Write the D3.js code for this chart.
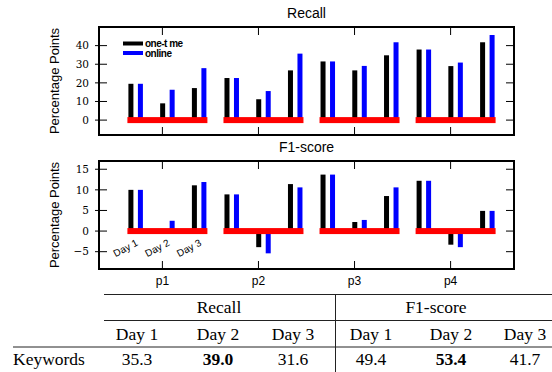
<!DOCTYPE html>
<html>
<head>
<meta charset="utf-8">
<script src="https://cdn.jsdelivr.net/npm/d3@7"></script>
<style>
	body { margin: 0; background: #fff; }
	svg { display: block; }
	.sans { font-family: "Liberation Sans", Arial, sans-serif; }
	.tick-num { font-family: "DejaVu Serif", serif; font-size: 10.5px; }
	.tbl { font-family: "Liberation Serif", "Times New Roman", serif; font-size: 17.5px; }
</style>
</head>
<body>
<svg id="chart" width="552" height="372"></svg>
<script>
// groups and days
var groups = ["p1", "p2", "p3", "p4"];
var days = ["Day 1", "Day 2", "Day 3"];
var series = ["one-t me", "online"];

// recall gains, one row per group, one value per day
var recallOnetime = [[19.5, 9.0, 17.2], [22.6, 11.2, 26.7], [31.5, 26.7, 34.8], [37.9, 29.0, 41.8]];
var recallOnline  = [[19.5, 16.3, 27.9], [22.6, 15.6, 35.7], [31.5, 29.1, 41.8], [37.9, 30.9, 45.7]];

// f1 gains
var f1Onetime = [[10.0, 0.0, 11.1], [8.9, -3.9, 11.4], [13.7, 2.2, 8.5], [12.2, -3.3, 4.9]];
var f1Online  = [[10.0, 2.5, 11.9], [8.9, -5.4, 10.6], [13.7, 2.7, 10.6], [12.2, -3.9, 4.9]];

var recallTicks = [0, 10, 20, 30, 40];
var f1Ticks = [-5, 0, 5, 10, 15];

// table below the chart
var tableHeads = ["Recall", "F1-score"];
var tableDays = ["Day 1", "Day 2", "Day 3", "Day 1", "Day 2", "Day 3"];
var tableRow = "Keywords";
var tableValues = ["35.3", "39.0", "31.6", "49.4", "53.4", "41.7"];
var tableBold = [false, true, false, false, true, false];

var colors = ["#000000", "#0000ff"];

var svg = d3.select("#chart");
var left = 99, right = 514, panelH = 108;

// x: one band per group, days as points inside, series offset
var x = d3.scaleBand().domain(groups).range([left, right]).paddingOuter(0.16).paddingInner(0);
var xDay = d3.scalePoint().domain(days).range([-35, 45]).padding(0.26);
var xSer = d3.scalePoint().domain(series).range([-4.75, 4.75]);
var barW = 5;

function drawPanel(top, title, ydom, ticks, onetime, online) {
	var y = d3.scaleLinear().domain(ydom).range([top + panelH, top]);
	var g = svg.append("g");
	var cx = d => x(d) + x.bandwidth() / 2;

	g.append("text")
		.attr("class", "sans")
		.attr("x", (left + right) / 2)
		.attr("y", top - 9.5)
		.attr("text-anchor", "middle")
		.attr("font-size", 14)
		.text(title);

	// bars, built from the arrays
	var rows = [];
	groups.forEach((p, i) => {
		days.forEach((dd, j) => {
			rows.push({p: p, day: dd, s: series[0], v: onetime[i][j], c: colors[0]});
			rows.push({p: p, day: dd, s: series[1], v: online[i][j], c: colors[1]});
		});
	});
	g.append("g").selectAll("rect")
		.data(rows)
		.enter().append("rect")
			.attr("x", d => cx(d.p) + xDay(d.day) + xSer(d.s) - barW / 2)
			.attr("y", d => y(Math.max(0, d.v)))
			.attr("width", barW)
			.attr("height", d => Math.abs(y(d.v) - y(0)))
			.attr("fill", d => d.c);

	// red baseline strips
	g.append("g").selectAll("rect")
		.data(groups)
		.enter().append("rect")
			.attr("x", d => cx(d) + xDay.range()[0])
			.attr("y", y(0) - 3)
			.attr("width", xDay.range()[1] - xDay.range()[0])
			.attr("height", 6)
			.attr("fill", "#ff0000");

	// ticks on all four sides (inward), left ones poke out a bit
	var yt = g.append("g");
	ticks.forEach(t => {
		yt.append("line").attr("x1", left - 4).attr("x2", left + 8)
			.attr("y1", y(t)).attr("y2", y(t)).attr("stroke", "#000");
		yt.append("line").attr("x1", right - 8).attr("x2", right)
			.attr("y1", y(t)).attr("y2", y(t)).attr("stroke", "#000");
		yt.append("text")
			.attr("class", "tick-num")
			.attr("x", left - 10)
			.attr("y", y(t))
			.attr("dy", "0.36em")
			.attr("text-anchor", "end")
			.text(t < 0 ? "\u2212" + Math.abs(t) : t);
	});
	groups.forEach(p => {
		yt.append("line").attr("x1", cx(p)).attr("x2", cx(p))
			.attr("y1", top).attr("y2", top + 8).attr("stroke", "#000");
		yt.append("line").attr("x1", cx(p)).attr("x2", cx(p))
			.attr("y1", top + panelH - 8).attr("y2", top + panelH).attr("stroke", "#000");
	});

	// frame
	g.append("rect")
		.attr("x", left).attr("y", top)
		.attr("width", right - left).attr("height", panelH)
		.attr("fill", "none").attr("stroke", "#000").attr("stroke-width", 2);

	g.append("text")
		.attr("class", "sans")
		.attr("transform", `translate(59, ${top + panelH / 2}) rotate(-90)`)
		.attr("text-anchor", "middle")
		.attr("font-size", 13)
		.text("Percentage Points");

	return {g: g, y: y, cx: cx};
}

var top1 = drawPanel(27, "Recall", [-8, 50], recallTicks, recallOnetime, recallOnline);
var bot = drawPanel(161, "F1-score", [-9.2, 17], f1Ticks, f1Onetime, f1Online);

// legend in the top panel
series.forEach((s, i) => {
	top1.g.append("line")
		.attr("x1", 123).attr("x2", 143)
		.attr("y1", 43.5 + i * 9.5).attr("y2", 43.5 + i * 9.5)
		.attr("stroke", colors[i]).attr("stroke-width", 4);
	top1.g.append("text")
		.attr("class", "sans")
		.attr("x", 145)
		.attr("y", 43.5 + i * 9.5)
		.attr("dy", "0.35em")
		.attr("font-size", 10)
		.attr("font-weight", "bold")
		.attr("letter-spacing", -0.5)
		.text(s);
});

// rotated day labels under the first group
days.forEach((dd, j) => {
	var px = bot.cx(groups[0]) + xDay(dd) + 3;
	bot.g.append("text")
		.attr("class", "sans")
		.attr("transform", `translate(${px}, 245) rotate(-28)`)
		.attr("text-anchor", "end")
		.attr("font-size", 10)
		.text(dd);
});

// group labels
groups.forEach(p => {
	svg.append("text")
		.attr("class", "sans")
		.attr("x", bot.cx(p))
		.attr("y", 285)
		.attr("text-anchor", "middle")
		.attr("font-size", 12)
		.text(p);
});

// table
var colX = [137, 218, 293, 371, 451, 525];
var tbl = svg.append("g").attr("class", "tbl");
[[104, 294.5], [104, 320.5], [13, 347]].forEach(r => {
	tbl.append("line").attr("x1", r[0]).attr("x2", 552)
		.attr("y1", r[1]).attr("y2", r[1]).attr("stroke", "#222").attr("stroke-width", 1);
});
tbl.append("line").attr("x1", 335.5).attr("x2", 335.5)
	.attr("y1", 294.5).attr("y2", 372).attr("stroke", "#222");
tbl.selectAll("text.head")
	.data(tableHeads)
	.enter().append("text")
		.attr("x", (d, i) => [219, 436][i])
		.attr("y", 313)
		.attr("text-anchor", "middle")
		.text(d => d);
tbl.selectAll("text.day")
	.data(tableDays)
	.enter().append("text")
		.attr("x", (d, i) => colX[i])
		.attr("y", 340)
		.attr("text-anchor", "middle")
		.text(d => d);
tbl.append("text").attr("x", 13).attr("y", 365).text(tableRow);
tbl.selectAll("text.val")
	.data(tableValues)
	.enter().append("text")
		.attr("x", (d, i) => colX[i])
		.attr("y", 365)
		.attr("text-anchor", "middle")
		.attr("font-weight", (d, i) => tableBold[i] ? "bold" : "normal")
		.text(d => d);
</script>
</body>
</html>
